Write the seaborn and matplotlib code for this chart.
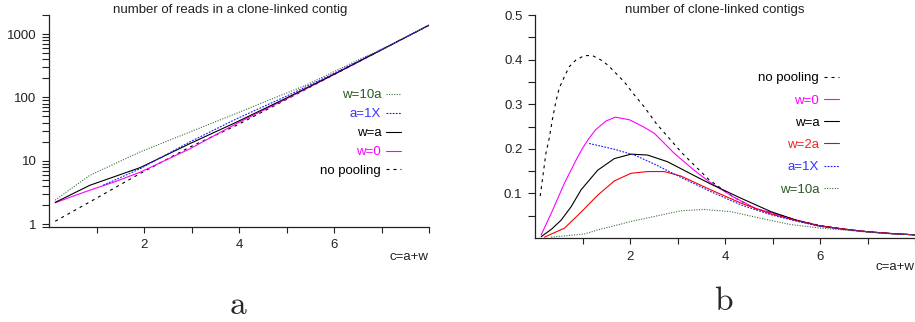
import numpy as np
import pandas as pd
import matplotlib
matplotlib.use("Agg")
import matplotlib.pyplot as plt
import matplotlib.ticker as mticker
from matplotlib.lines import Line2D
import seaborn as sns

# ---- panel a: number of reads in a clone-linked contig (log scale) ----
a_nopool_x = [0.13, 0.86, 1.92, 2.97, 3.95, 5.0, 6.0, 7.0, 8.0]
a_nopool_y = [1.11, 2.24, 6.3, 16.5, 36.3, 93, 229, 562, 1380]
a_w0_x = [0.13, 0.5, 0.86, 1.4, 1.92, 2.97, 3.95, 5.0, 6.0, 7.0, 8.0]
a_w0_y = [2.17, 2.75, 3.43, 4.7, 6.6, 15.5, 38.7, 95, 230, 563, 1380]
a_wa_x = [0.13, 0.86, 1.92, 2.97, 3.95, 5.0, 6.0, 7.0, 8.0]
a_wa_y = [2.2, 4.1, 7.8, 18.7, 40.8, 98, 232, 565, 1380]
a_1x_x = [1.14, 1.92, 2.97, 3.95, 5.0, 6.0, 7.0, 8.0]
a_1x_y = [4.1, 7.5, 19.9, 46, 105, 240, 570, 1380]
a_w10_x = [0.13, 0.86, 1.92, 2.97, 4.02, 5.4, 6.48, 7.18, 8.0]
a_w10_y = [2.39, 5.9, 13.8, 28.5, 59, 155, 381, 660, 1390]

# ---- panel b: number of clone-linked contigs ----
b_nopool_x = [0.11, 0.23, 0.30, 0.37, 0.44, 0.51, 0.62, 0.72, 0.86, 1.04, 1.21,
              1.39, 1.53, 1.67, 1.88, 2.09, 2.30, 2.55, 3.1, 3.67, 4.16, 4.65,
              5.0, 5.5, 6.0, 6.5, 7.0, 7.5, 8.0]
b_nopool_y = [0.094, 0.19, 0.224, 0.268, 0.306, 0.336, 0.362, 0.384, 0.399, 0.409,
              0.409, 0.399, 0.388, 0.373, 0.350, 0.321, 0.294, 0.257, 0.19, 0.13,
              0.093, 0.065, 0.056, 0.04, 0.028, 0.02, 0.014, 0.01, 0.007]
b_w0_x = [0.13, 0.34, 0.62, 0.9, 1.0, 1.14, 1.28, 1.49, 1.69, 1.99, 2.27, 2.51,
          2.93, 3.35, 3.67, 4.16, 4.65, 5.0, 5.5, 6.0, 6.5, 7.0, 7.5, 8.0]
b_w0_y = [0.007, 0.055, 0.123, 0.182, 0.201, 0.224, 0.243, 0.262, 0.271, 0.265, 0.25,
          0.235, 0.19, 0.152, 0.126, 0.093, 0.066, 0.056, 0.04, 0.027, 0.02, 0.014,
          0.01, 0.007]
b_wa_x = [0.13, 0.35, 0.55, 0.76, 0.97, 1.32, 1.67, 2.02, 2.37, 2.79, 3.35, 3.7,
          4.34, 4.97, 5.5, 6.0, 6.5, 7.0, 7.5, 8.0]
b_wa_y = [0.003, 0.02, 0.04, 0.07, 0.108, 0.152, 0.178, 0.188, 0.186, 0.171, 0.14,
          0.121, 0.089, 0.059, 0.04, 0.027, 0.02, 0.014, 0.01, 0.007]
b_w2a_x = [0.2, 0.62, 0.97, 1.32, 1.67, 2.02, 2.37, 2.72, 3.07, 3.7, 4.34, 4.97,
           5.5, 6.0, 6.5, 7.0, 7.5, 8.0]
b_w2a_y = [0.002, 0.022, 0.058, 0.096, 0.128, 0.145, 0.149, 0.149, 0.139, 0.108,
           0.078, 0.054, 0.039, 0.027, 0.02, 0.014, 0.01, 0.007]
b_1x_x = [1.14, 1.67, 2.09, 2.51, 3.07, 3.7, 4.34, 4.97, 5.5, 6.0, 6.5, 7.0, 7.5, 8.0]
b_1x_y = [0.212, 0.199, 0.186, 0.166, 0.136, 0.104, 0.074, 0.052, 0.038, 0.026,
          0.019, 0.014, 0.01, 0.007]
b_w10_x = [0.34, 1.04, 1.32, 2.02, 2.41, 3.07, 3.56, 4.13, 4.76, 5.39, 6.02, 6.5,
           7.0, 7.5, 8.0]
b_w10_y = [0.002, 0.009, 0.018, 0.037, 0.046, 0.061, 0.064, 0.059, 0.044, 0.03,
           0.022, 0.018, 0.013, 0.009, 0.007]

# styles: label -> (line colour, text colour, dashes)
styles = {
    'no pooling': ('black', 'black', (2.7, 3.6)),
    'w=0': ('#ff00ff', '#ff00ff', None),
    'w=a': ('black', 'black', None),
    'w=2a': ('#ff0000', '#ff2020', None),
    'a=1X': ('#1a1aff', '#3333ff', (1.6, 1.2)),
    'w=10a': ('#3d6e3d', '#2a5a22', (1, 1.3)),
}

sns.set_theme(style="ticks")
plt.rcParams['font.family'] = ['Liberation Sans', 'DejaVu Sans']
plt.rcParams['font.size'] = 9.5

fig = plt.figure(figsize=(9.15, 3.22), dpi=100)
ax1 = fig.add_axes([49 / 915, 1 - 227 / 322, 380 / 915, 212 / 322])
ax2 = fig.add_axes([535 / 915, 1 - 238 / 322, 380 / 915, 223 / 322])


def draw(ax, series):
    handles = {}
    for label, xs, ys in series:
        col, tcol, dash = styles[label]
        df = pd.DataFrame({'x': xs, 'y': ys})
        sns.lineplot(data=df, x='x', y='y', ax=ax, color=col, lw=0.8,
                     sort=False, estimator=None)
        line = ax.lines[-1]
        line.set_solid_joinstyle('round')
        if dash is not None:
            line.set_dashes(dash)
        h = Line2D([], [], color=col, lw=0.8)
        if dash is not None:
            h.set_dashes(dash)
        handles[label] = h
    return handles


h1 = draw(ax1, [
    ('no pooling', a_nopool_x, a_nopool_y),
    ('w=0', a_w0_x, a_w0_y),
    ('w=a', a_wa_x, a_wa_y),
    ('a=1X', a_1x_x, a_1x_y),
    ('w=10a', a_w10_x, a_w10_y),
])
h2 = draw(ax2, [
    ('no pooling', b_nopool_x, b_nopool_y),
    ('w=0', b_w0_x, b_w0_y),
    ('w=a', b_wa_x, b_wa_y),
    ('w=2a', b_w2a_x, b_w2a_y),
    ('a=1X', b_1x_x, b_1x_y),
    ('w=10a', b_w10_x, b_w10_y),
])

ax1.set_yscale('log')
ax1.set_ylim(0.9, 2000)
ax1.set_yticks([1, 10, 100, 1000])
ax1.set_yticklabels(['1', '10', '100', '1000'])
ax1.yaxis.set_minor_locator(mticker.LogLocator(base=10, subs=np.arange(2, 10)))
ax1.yaxis.set_minor_formatter(mticker.NullFormatter())

ax2.set_ylim(0, 0.5)
ax2.set_yticks([0.1, 0.2, 0.3, 0.4, 0.5])
ax2.set_yticklabels(['0.1', '0.2', '0.3', '0.4', '0.5'])
ax2.yaxis.set_minor_locator(mticker.FixedLocator([0.05, 0.15, 0.25, 0.35, 0.45]))

for ax in (ax1, ax2):
    ax.set_xlim(0, 8)
    ax.set_xticks(range(1, 9))
    ax.set_xticklabels(['', '2', '', '4', '', '6', '', ''])
    ax.set_xlabel('')
    ax.set_ylabel('')
    sns.despine(ax=ax)
    for s in ('left', 'bottom'):
        ax.spines[s].set_linewidth(0.9)
        ax.spines[s].set_color('#222222')
    ax.tick_params(axis='x', direction='out', length=4, width=0.8, pad=5,
                   labelsize=9.5, colors='#222222')
    ax.tick_params(axis='y', which='major', direction='out', length=5, width=0.8,
                   pad=4, labelsize=9.5, colors='#222222')
    ax.tick_params(axis='y', which='minor', direction='out', length=5, width=0.8,
                   colors='#222222')
    ax.set_facecolor('none')

# legends (text on the left, sample on the right)
order1 = ['w=10a', 'a=1X', 'w=a', 'w=0', 'no pooling']
leg1 = ax1.legend([h1[k] for k in order1], order1, frameon=False, markerfirst=False,
                  loc='upper right', bbox_to_anchor=(401 / 915, 1 - 89 / 322),
                  bbox_transform=fig.transFigure, borderpad=0, borderaxespad=0,
                  handlelength=1.15, handletextpad=0.35, labelspacing=0.51,
                  fontsize=9.5)
for t, k in zip(leg1.get_texts(), order1):
    t.set_color(styles[k][1])

order2 = ['no pooling', 'w=0', 'w=a', 'w=2a', 'a=1X', 'w=10a']
leg2 = ax2.legend([h2[k] for k in order2], order2, frameon=False, markerfirst=False,
                  loc='upper right', bbox_to_anchor=(839 / 915, 1 - 72 / 322),
                  bbox_transform=fig.transFigure, borderpad=0, borderaxespad=0,
                  handlelength=1.15, handletextpad=0.35, labelspacing=0.76,
                  fontsize=9.5)
for t, k in zip(leg2.get_texts(), order2):
    t.set_color(styles[k][1])

# titles and labels
fig.text(230 / 915, 1 - 10 / 322, 'number of reads in a clone-linked contig',
         ha='center', va='center', fontsize=9.5, color='#222222')
fig.text(715 / 915, 1 - 10 / 322, 'number of clone-linked contigs',
         ha='center', va='center', fontsize=9.5, color='#222222')
fig.text(428 / 915, 1 - 257 / 322, 'c=a+w', ha='right', va='center',
         fontsize=9.5, color='#222222')
fig.text(914 / 915, 1 - 267 / 322, 'c=a+w', ha='right', va='center',
         fontsize=9.5, color='#222222')
fig.text(238 / 915, 1 - 305 / 322, r'$\mathrm{a}$', ha='center', va='center',
         fontsize=24, math_fontfamily='cm')
fig.text(724 / 915, 1 - 302 / 322, r'$\mathrm{b}$', ha='center', va='center',
         fontsize=24, math_fontfamily='cm')

fig.patch.set_facecolor('white')
fig.savefig('out.png', dpi=100, facecolor='white')
